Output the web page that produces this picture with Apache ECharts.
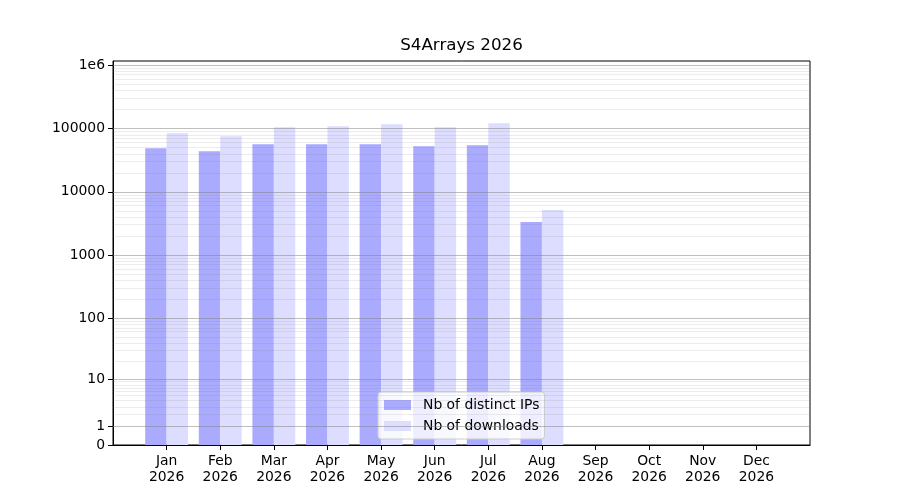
<!DOCTYPE html>
<html>
<head>
<meta charset="utf-8">
<script src="https://cdn.jsdelivr.net/npm/echarts@6/dist/echarts.min.js"></script>
<style>
  html, body { margin: 0; padding: 0; background: #fff; }
  #chart { width: 900px; height: 500px; }
</style>
</head>
<body>
<div id="chart"></div>
<script>
// ===== Data =====
const months    = ['Jan','Feb','Mar','Apr','May','Jun','Jul','Aug','Sep','Oct','Nov','Dec'];
const year      = '2026';
const distinctIPs = [48900, 43900, 56500, 56500, 56500, 52600, 54500, 3330, null, null, null, null];
const downloads   = [84300, 75600, 104800, 108700, 116900, 104800, 121300, 5150, null, null, null, null];
const yTickVals   = [0, 1, 10, 100, 1000, 10000, 100000, 1000000];
const yTickLabels = ['0', '1', '10', '100', '1000', '10000', '100000', '1e6'];
const yTopValue   = 1165000;

// y scale: log10(1 + v)
const tr = v => Math.log10(1 + v);

// minor grid lines at 2..9 x 10^k
const minorVals = [];
for (let k = 0; k <= 5; k++) {
  for (let m = 2; m <= 9; m++) minorVals.push(m * Math.pow(10, k));
}

// pad one empty slot on each side of the months
const cats = [''].concat(months.map(m => m + '\n' + year), ['']);
const pad  = arr => [null].concat(arr.map(v => v == null ? null : tr(v)), [null]);

const gridLeft = 113, gridRight = 90;
const bandPx = (900 - gridLeft - gridRight) / (cats.length - 1);

const font = 'DejaVu Sans';

const chart = echarts.init(document.getElementById('chart'), null, { renderer: 'canvas' });

const option = {
  animation: false,
  title: {
    text: 'S4Arrays ' + year,
    left: 461.5,
    top: 37,
    padding: 0,
    textAlign: 'center',
    textStyle: { fontFamily: font, fontSize: 16.7, fontWeight: 'normal', color: '#000' }
  },
  legend: {
    orient: 'vertical',
    left: 378,
    top: 392,
    padding: [6, 5, 6, 6],
    itemGap: 7,
    itemWidth: 27,
    itemHeight: 10,
    icon: 'rect',
    backgroundColor: 'rgba(255,255,255,0.8)',
    borderColor: '#cccccc',
    borderWidth: 1,
    borderRadius: 3,
    textStyle: { fontFamily: font, fontSize: 13.9, color: '#000', padding: [0, 0, 0, 7] },
    data: ['Nb of distinct IPs', 'Nb of downloads']
  },
  grid: {
    left: gridLeft, right: gridRight, top: 61, bottom: 55,
    outerBoundsMode: 'none',
    show: true, borderColor: '#000', borderWidth: 1, backgroundColor: 'transparent'
  },
  xAxis: {
    type: 'category',
    data: cats,
    boundaryGap: false,
    axisLine: { lineStyle: { color: '#000', width: 1 } },
    axisTick: {
      length: 5,
      lineStyle: { color: '#000' },
      interval: (i) => i > 0 && i < cats.length - 1
    },
    axisLabel: {
      interval: 0,
      margin: 8,
      color: '#000',
      fontFamily: font,
      fontSize: 13.9,
      lineHeight: 16
    },
    splitLine: { show: false }
  },
  yAxis: {
    type: 'value',
    min: 0,
    max: tr(yTopValue),
    axisLine: { show: true, lineStyle: { color: '#000', width: 1 } },
    axisTick: { show: true, length: 5, customValues: yTickVals.map(tr), lineStyle: { color: '#000' } },
    axisLabel: {
      customValues: yTickVals.map(tr),
      margin: 8,
      color: '#000',
      fontFamily: font,
      fontSize: 13.9,
      formatter: val => {
        const i = yTickVals.findIndex(t => Math.abs(tr(t) - val) < 1e-6);
        return i >= 0 ? yTickLabels[i] : '';
      }
    },
    splitLine: { show: false }
  },
  series: [
    {
      name: 'Nb of distinct IPs',
      type: 'bar',
      data: pad(distinctIPs),
      barWidth: bandPx * 0.4,
      barGap: '0%',
      itemStyle: { color: '#aaaaff' },
      z: 2
    },
    {
      name: 'Nb of downloads',
      type: 'bar',
      data: pad(downloads),
      barWidth: bandPx * 0.4,
      barGap: '0%',
      itemStyle: { color: '#ddddff' },
      z: 2
    },
    {
      // grid lines drawn above the bars, like matplotlib
      name: 'grid',
      type: 'line',
      data: [],
      silent: true,
      z: 5,
      markLine: {
        silent: true,
        symbol: 'none',
        label: { show: false },
        animation: false,
        data: minorVals.map(v => ({ yAxis: tr(v), lineStyle: { color: 'rgba(128,128,128,0.15)', width: 1, type: 'solid' } }))
          .concat(yTickVals.slice(1).map(v => ({ yAxis: tr(v), lineStyle: { color: 'rgba(128,128,128,0.5)', width: 1, type: 'solid' } })))
      }
    }
  ]
};

chart.setOption(option);
</script>
</body>
</html>
